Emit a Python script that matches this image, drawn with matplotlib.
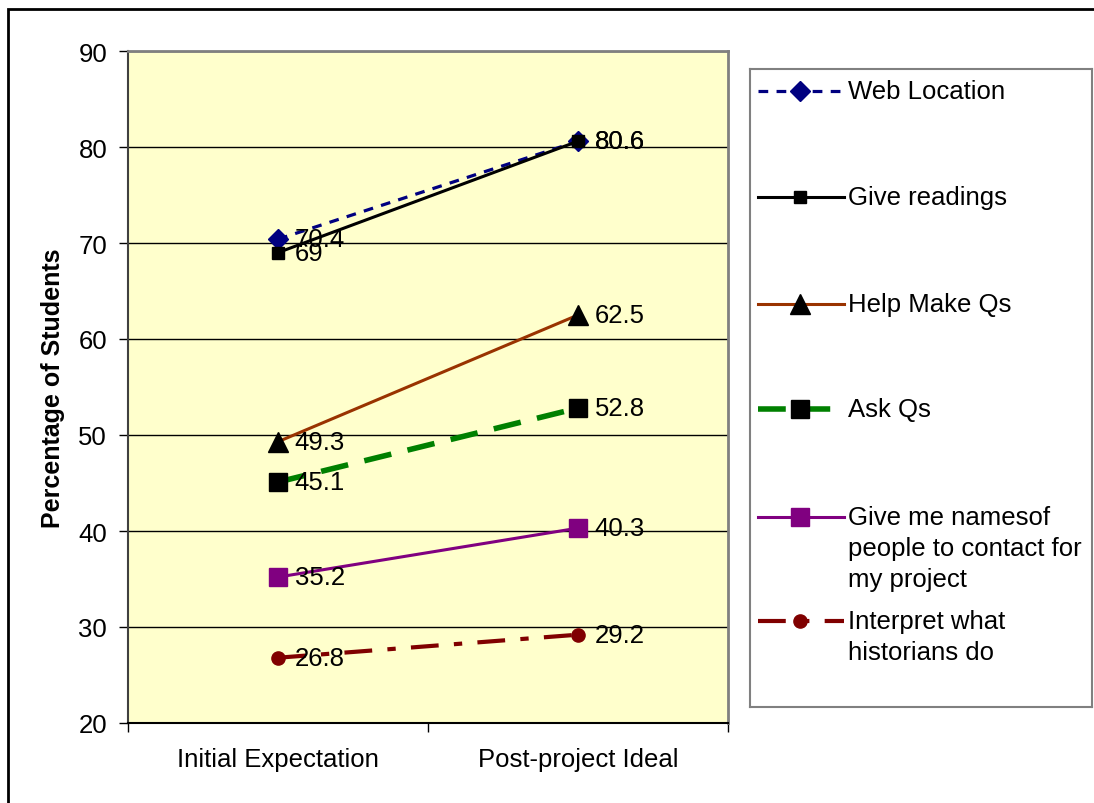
import matplotlib.pyplot as plt
from matplotlib.patches import Rectangle

plt.rcParams['font.family'] = ['Liberation Sans', 'DejaVu Sans']
plt.rcParams['lines.scale_dashes'] = False

stages = ['Initial Expectation', 'Post-project Ideal']
web_location = [70.4, 80.6]
give_readings = [69, 80.6]
help_make_qs = [49.3, 62.5]
ask_qs = [45.1, 52.8]
give_names = [35.2, 40.3]
interpret = [26.8, 29.2]

labels = ['Web Location', 'Give readings', 'Help Make Qs', 'Ask Qs',
          'Give me namesof\npeople to contact for\nmy project',
          'Interpret what\nhistorians do']
values = [web_location, give_readings, help_make_qs, ask_qs, give_names, interpret]

styles = [
    dict(color='#000080', ls=(0, (7, 6)), lw=2.3, marker='D', ms=10.5,
         mfc='#000080', mec='#000080'),
    dict(color='black', ls='-', lw=2.2, marker='s', ms=8, mfc='black', mec='black'),
    dict(color='#993300', ls='-', lw=2.2, marker='^', ms=15, mfc='black', mec='black'),
    dict(color='#008000', ls=(0, (20, 12)), lw=4, marker='s', ms=13.5,
         mfc='black', mec='black'),
    dict(color='#800080', ls='-', lw=2.2, marker='s', ms=13.5,
         mfc='#800080', mec='#800080'),
    dict(color='#800000', ls=(0, (20, 11, 6, 11)), lw=3, marker='o', ms=9.5,
         mfc='#800000', mec='#800000'),
]

W, H = 1094, 804
fig = plt.figure(figsize=(W / 100, H / 100), dpi=100)
ax = fig.add_axes([128 / W, 1 - 724 / H, 600 / W, 672 / H])
ax.set_facecolor('#FFFFCC')

x = [0.5, 1.5]
for vals, st in zip(values, styles):
    ax.plot(x, vals, **st, zorder=3)
    for xi, v in zip(x, vals):
        ax.annotate(f'{v:g}', (xi, v), xytext=(12, 0), textcoords='offset points',
                    va='center', ha='left', fontsize=18.5, zorder=4)

ax.set_xlim(0, 2)
ax.set_ylim(20, 90)
ax.set_yticks(range(20, 91, 10))
ax.yaxis.grid(True, color='black', lw=1)
ax.set_axisbelow(True)
ax.tick_params(axis='y', labelsize=18.5, length=6.5, width=1, pad=8.5)

ax.set_xticks(x)
ax.set_xticklabels(stages)
ax.set_xticks([0, 1, 2], minor=True)
ax.tick_params(axis='x', which='major', length=0, labelsize=18.5, pad=17)
ax.tick_params(axis='x', which='minor', length=6.5, width=1)

ax.set_ylabel('Percentage of Students', fontsize=18, fontweight='bold', labelpad=10)

for side in ['top', 'right']:
    ax.spines[side].set_color('#808080')
    ax.spines[side].set_linewidth(2)
ax.spines['left'].set_color('#404040')
ax.spines['left'].set_linewidth(1.5)
ax.spines['bottom'].set_color('black')
ax.spines['bottom'].set_linewidth(1.5)

# legend panel, laid out in pixel units
leg = fig.add_axes([750 / W, 1 - 708 / H, 342 / W, 638 / H])
leg.set_xlim(0, 342)
leg.set_ylim(638, 0)
leg.set_xticks([])
leg.set_yticks([])
for sp in leg.spines.values():
    sp.set_color('#808080')
    sp.set_linewidth(1.5)

entry_y = [22, 128, 235, 340, 448, 552]
for lab, st, y in zip(labels, styles, entry_y):
    line_st = {k: v for k, v in st.items() if k in ('color', 'ls', 'lw')}
    leg.plot([8, 94], [y, y], **line_st)
    leg.plot([50], [y], ls='none', **{k: v for k, v in st.items()
                                     if k in ('marker', 'ms', 'mfc', 'mec')})
    for i, part in enumerate(lab.split('\n')):
        leg.text(98, y + i * 31, part, va='center', ha='left', fontsize=18.5)

# outer frame around the chart area
fig.add_artist(Rectangle((8 / W, -0.1), 1.2, 1.1 - 10 / H, transform=fig.transFigure,
                         fill=False, ec='black', lw=2))

fig.savefig('out.png', dpi=100)
